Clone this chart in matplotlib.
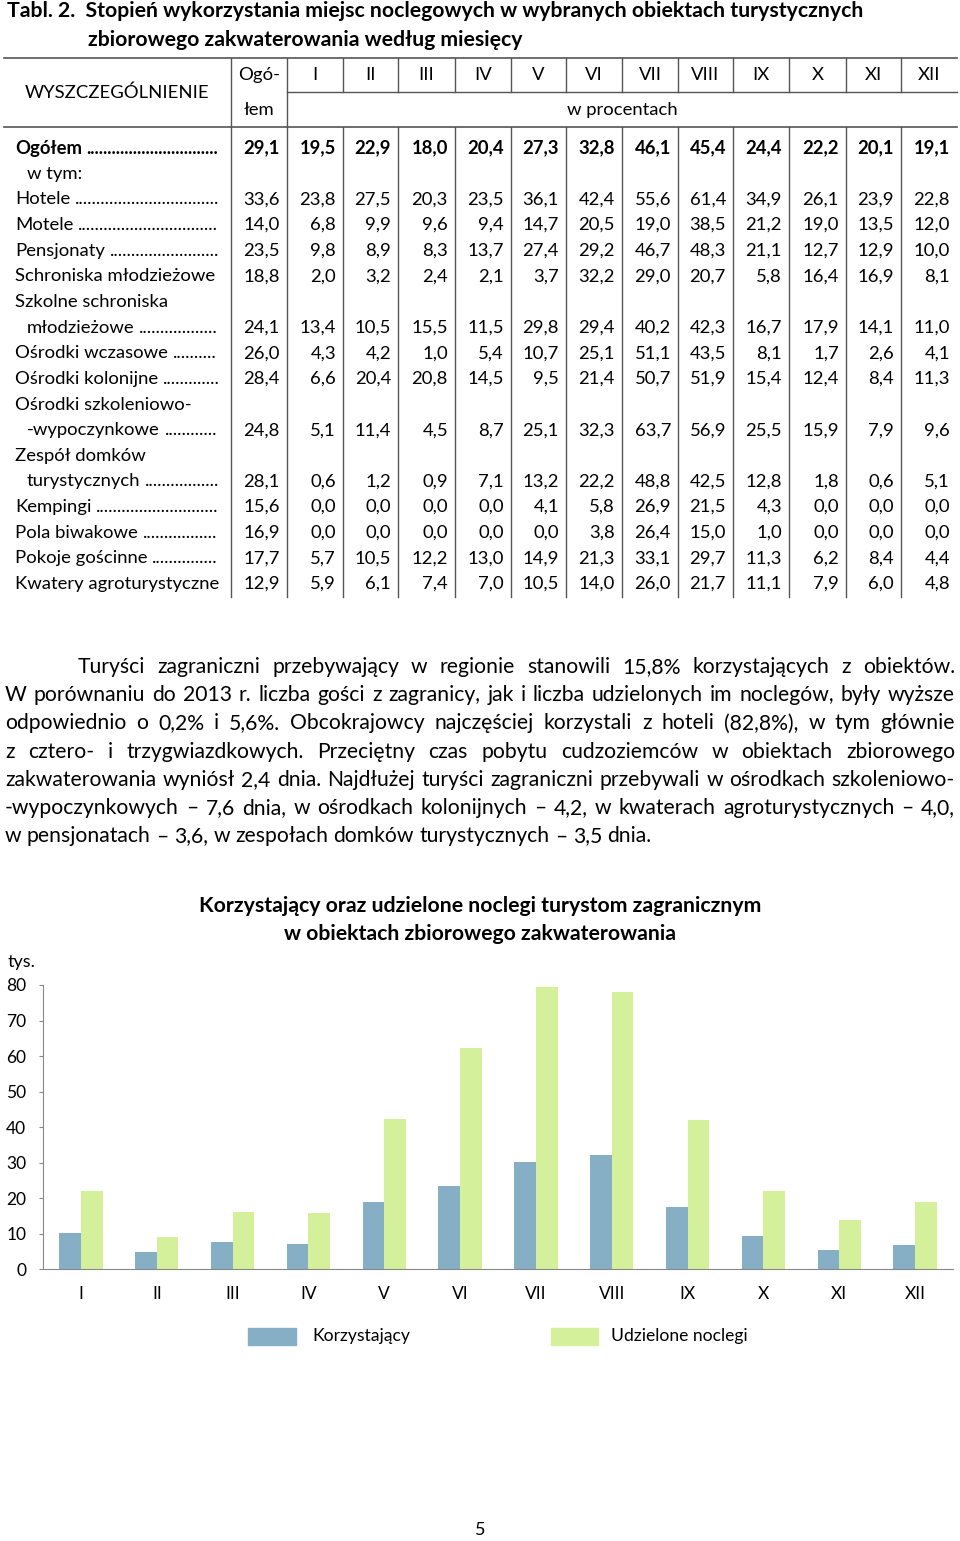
import matplotlib
matplotlib.use('Agg')
import matplotlib.pyplot as plt
from matplotlib.patches import Rectangle
import numpy as np

plt.rcParams['font.family'] = ['Lato', 'DejaVu Sans']

# ---- dane tabeli ----
months = ['I', 'II', 'III', 'IV', 'V', 'VI', 'VII', 'VIII', 'IX', 'X', 'XI', 'XII']

ogolem = [29.1, 19.5, 22.9, 18.0, 20.4, 27.3, 32.8, 46.1, 45.4, 24.4, 22.2, 20.1, 19.1]
hotele = [33.6, 23.8, 27.5, 20.3, 23.5, 36.1, 42.4, 55.6, 61.4, 34.9, 26.1, 23.9, 22.8]
motele = [14.0, 6.8, 9.9, 9.6, 9.4, 14.7, 20.5, 19.0, 38.5, 21.2, 19.0, 13.5, 12.0]
pensjonaty = [23.5, 9.8, 8.9, 8.3, 13.7, 27.4, 29.2, 46.7, 48.3, 21.1, 12.7, 12.9, 10.0]
schroniska = [18.8, 2.0, 3.2, 2.4, 2.1, 3.7, 32.2, 29.0, 20.7, 5.8, 16.4, 16.9, 8.1]
szkolne_schroniska = [24.1, 13.4, 10.5, 15.5, 11.5, 29.8, 29.4, 40.2, 42.3, 16.7, 17.9, 14.1, 11.0]
wczasowe = [26.0, 4.3, 4.2, 1.0, 5.4, 10.7, 25.1, 51.1, 43.5, 8.1, 1.7, 2.6, 4.1]
kolonijne = [28.4, 6.6, 20.4, 20.8, 14.5, 9.5, 21.4, 50.7, 51.9, 15.4, 12.4, 8.4, 11.3]
szkoleniowe = [24.8, 5.1, 11.4, 4.5, 8.7, 25.1, 32.3, 63.7, 56.9, 25.5, 15.9, 7.9, 9.6]
domki = [28.1, 0.6, 1.2, 0.9, 7.1, 13.2, 22.2, 48.8, 42.5, 12.8, 1.8, 0.6, 5.1]
kempingi = [15.6, 0.0, 0.0, 0.0, 0.0, 4.1, 5.8, 26.9, 21.5, 4.3, 0.0, 0.0, 0.0]
pola = [16.9, 0.0, 0.0, 0.0, 0.0, 0.0, 3.8, 26.4, 15.0, 1.0, 0.0, 0.0, 0.0]
pokoje = [17.7, 5.7, 10.5, 12.2, 13.0, 14.9, 21.3, 33.1, 29.7, 11.3, 6.2, 8.4, 4.4]
kwatery = [12.9, 5.9, 6.1, 7.4, 7.0, 10.5, 14.0, 26.0, 21.7, 11.1, 7.9, 6.0, 4.8]

# (tekst, wcięcie, kropki, pogrubienie, wartości)
label_lines = [
    ('Ogółem', False, True, True, ogolem),
    ('w tym:', True, False, False, None),
    ('Hotele', False, True, False, hotele),
    ('Motele', False, True, False, motele),
    ('Pensjonaty', False, True, False, pensjonaty),
    ('Schroniska młodzieżowe', False, False, False, schroniska),
    ('Szkolne schroniska', False, False, False, None),
    ('młodzieżowe', True, True, False, szkolne_schroniska),
    ('Ośrodki wczasowe', False, True, False, wczasowe),
    ('Ośrodki kolonijne', False, True, False, kolonijne),
    ('Ośrodki szkoleniowo-', False, False, False, None),
    ('-wypoczynkowe', True, True, False, szkoleniowe),
    ('Zespół domków', False, False, False, None),
    ('turystycznych', True, True, False, domki),
    ('Kempingi', False, True, False, kempingi),
    ('Pola biwakowe', False, True, False, pola),
    ('Pokoje gościnne', False, True, False, pokoje),
    ('Kwatery agroturystyczne', False, False, False, kwatery),
]

paragraph = [
    "Turyści zagraniczni przebywający w regionie stanowili 15,8% korzystających z obiektów.",
    "W porównaniu do 2013 r. liczba gości z zagranicy, jak i liczba udzielonych im noclegów, były wyższe",
    "odpowiednio o 0,2% i 5,6%. Obcokrajowcy najczęściej korzystali z hoteli (82,8%), w tym głównie",
    "z cztero- i trzygwiazdkowych. Przeciętny czas pobytu cudzoziemców w obiektach zbiorowego",
    "zakwaterowania wyniósł 2,4 dnia. Najdłużej turyści zagraniczni przebywali w ośrodkach szkoleniowo-",
    "-wypoczynkowych – 7,6 dnia, w ośrodkach kolonijnych – 4,2, w kwaterach agroturystycznych – 4,0,",
    "w pensjonatach – 3,6, w zespołach domków turystycznych – 3,5 dnia.",
]

# ---- dane wykresu (tys.) ----
korzystajacy = [10.1, 4.9, 7.7, 7.1, 19.0, 23.3, 30.2, 32.2, 17.6, 9.3, 5.4, 6.7]
noclegi = [21.9, 9.2, 16.0, 15.9, 42.2, 62.3, 79.5, 77.9, 42.0, 21.9, 13.9, 18.8]

blue = '#86AEC4'
green = '#D4F09A'
line_c = '#555555'

fig = plt.figure(figsize=(9.6, 15.41), dpi=100)
ax = fig.add_axes([0, 0, 1, 1])
ax.set_xlim(0, 960)
ax.set_ylim(1541, 0)
ax.axis('off')
renderer = fig.canvas.get_renderer()

fs_tab = 13.3
fs_par = 15.2

def width_of(t):
    return t.get_window_extent(renderer).width

# tytuł tabeli
ax.text(7, 11, 'Tabl. 2.  Stopień wykorzystania miejsc noclegowych w wybranych obiektach turystycznych',
        fontsize=15.3, fontweight='bold', va='center')
ax.text(88, 40, 'zbiorowego zakwaterowania według miesięcy',
        fontsize=15.3, fontweight='bold', va='center')

# linie tabeli
bounds = [231, 287, 343, 398, 455, 511, 566, 622, 678, 733, 789, 846, 901, 957]
top, mid, head_bot, bottom = 58, 92, 127, 597
ax.plot([4, 957], [top, top], color=line_c, lw=1.2)
ax.plot([4, 957], [head_bot, head_bot], color=line_c, lw=1.2)
ax.plot([287, 957], [mid, mid], color=line_c, lw=1.0)
for i, b in enumerate(bounds[:-1]):
    if i < 2:
        ax.plot([b, b], [top, bottom], color=line_c, lw=1.0)
    else:
        ax.plot([b, b], [top, mid], color=line_c, lw=1.0)
        ax.plot([b, b], [head_bot, bottom], color=line_c, lw=1.0)

# nagłówek
ax.text(117, 93, 'WYSZCZEGÓLNIENIE', fontsize=fs_tab, ha='center', va='center')
ax.text(259, 75, 'Ogó-', fontsize=fs_tab, ha='center', va='center')
ax.text(259, 110, 'łem', fontsize=fs_tab, ha='center', va='center')
for i, m in enumerate(months):
    ax.text((bounds[i + 1] + bounds[i + 2]) / 2, 75, m, fontsize=fs_tab, ha='center', va='center')
ax.text(622, 110, 'w procentach', fontsize=fs_tab, ha='center', va='center')

# wiersze
for i, (txt, indent, dots, bold, vals) in enumerate(label_lines):
    y = 148 + i * 25.65
    x0 = 27 if indent else 15
    w = 'bold' if bold else 'normal'
    t = ax.text(x0, y, txt, fontsize=fs_tab, fontweight=w, va='center')
    if dots:
        tw = width_of(t)
        d = ax.text(0, 0, '.' * 20, fontsize=fs_tab, fontweight=w)
        dw = width_of(d) / 20
        d.remove()
        sp = ax.text(0, 0, ' ', fontsize=fs_tab, fontweight=w)
        spw = width_of(sp)
        sp.remove()
        n = int((220 - (x0 + tw + spw)) / dw)
        ax.text(x0 + tw + spw, y, '.' * max(n, 0), fontsize=fs_tab, fontweight=w, va='center')
    if vals is not None:
        for j, v in enumerate(vals):
            ax.text(bounds[j + 1] - 7, y, f'{v:.1f}'.replace('.', ','),
                    fontsize=fs_tab, fontweight=w, ha='right', va='center')

# akapit wyjustowany
par_x0, par_x1 = 5, 955
for k, line in enumerate(paragraph):
    y = 667 + k * 28.2
    x_start = 78 if k == 0 else par_x0
    words = line.split(' ')
    texts = [ax.text(0, y, wd, fontsize=fs_par, va='center') for wd in words]
    widths = [width_of(t) for t in texts]
    if k == len(paragraph) - 1:
        sp = ax.text(0, 0, ' ', fontsize=fs_par)
        gap = width_of(sp)
        sp.remove()
    else:
        gap = (par_x1 - x_start - sum(widths)) / (len(words) - 1)
    x = x_start
    for t, wd in zip(texts, widths):
        t.set_x(x)
        x += wd + gap

# tytuł wykresu
ax.text(480, 906, 'Korzystający oraz udzielone noclegi turystom zagranicznym',
        fontsize=15.3, fontweight='bold', ha='center', va='center')
ax.text(480, 934, 'w obiektach zbiorowego zakwaterowania',
        fontsize=15.3, fontweight='bold', ha='center', va='center')
ax.text(8, 962, 'tys.', fontsize=13, va='center')

# legenda
ax.add_patch(Rectangle((248, 1328), 48, 17, color=blue))
ax.text(312, 1336, 'Korzystający', fontsize=12.6, va='center')
ax.add_patch(Rectangle((551, 1328), 47, 17, color=green))
ax.text(611, 1336, 'Udzielone noclegi', fontsize=12.6, va='center')

ax.text(480, 1530, '5', fontsize=13, ha='center', va='center')

# wykres słupkowy
ax2 = fig.add_axes([43 / 960, 1 - 1269.3 / 1541, 910 / 960, 284.3 / 1541])
ax2.set_facecolor('none')
xpos = np.arange(len(months))
bw = 0.285
ax2.bar(xpos - bw / 2, korzystajacy, bw, color=blue)
ax2.bar(xpos + bw / 2, noclegi, bw, color=green)
ax2.set_xlim(-0.5, 11.5)
ax2.set_ylim(0, 80)
ax2.set_yticks(range(0, 81, 10))
ax2.set_xticks(xpos)
ax2.set_xticklabels(months)
for s in ['top', 'right']:
    ax2.spines[s].set_visible(False)
for s in ['left', 'bottom']:
    ax2.spines[s].set_color('#888888')
ax2.tick_params(axis='y', length=3, color='#888888', pad=9, labelsize=12.5)
ax2.tick_params(axis='x', length=0, pad=12, labelsize=12.5)

fig.savefig('out.png', dpi=100)
